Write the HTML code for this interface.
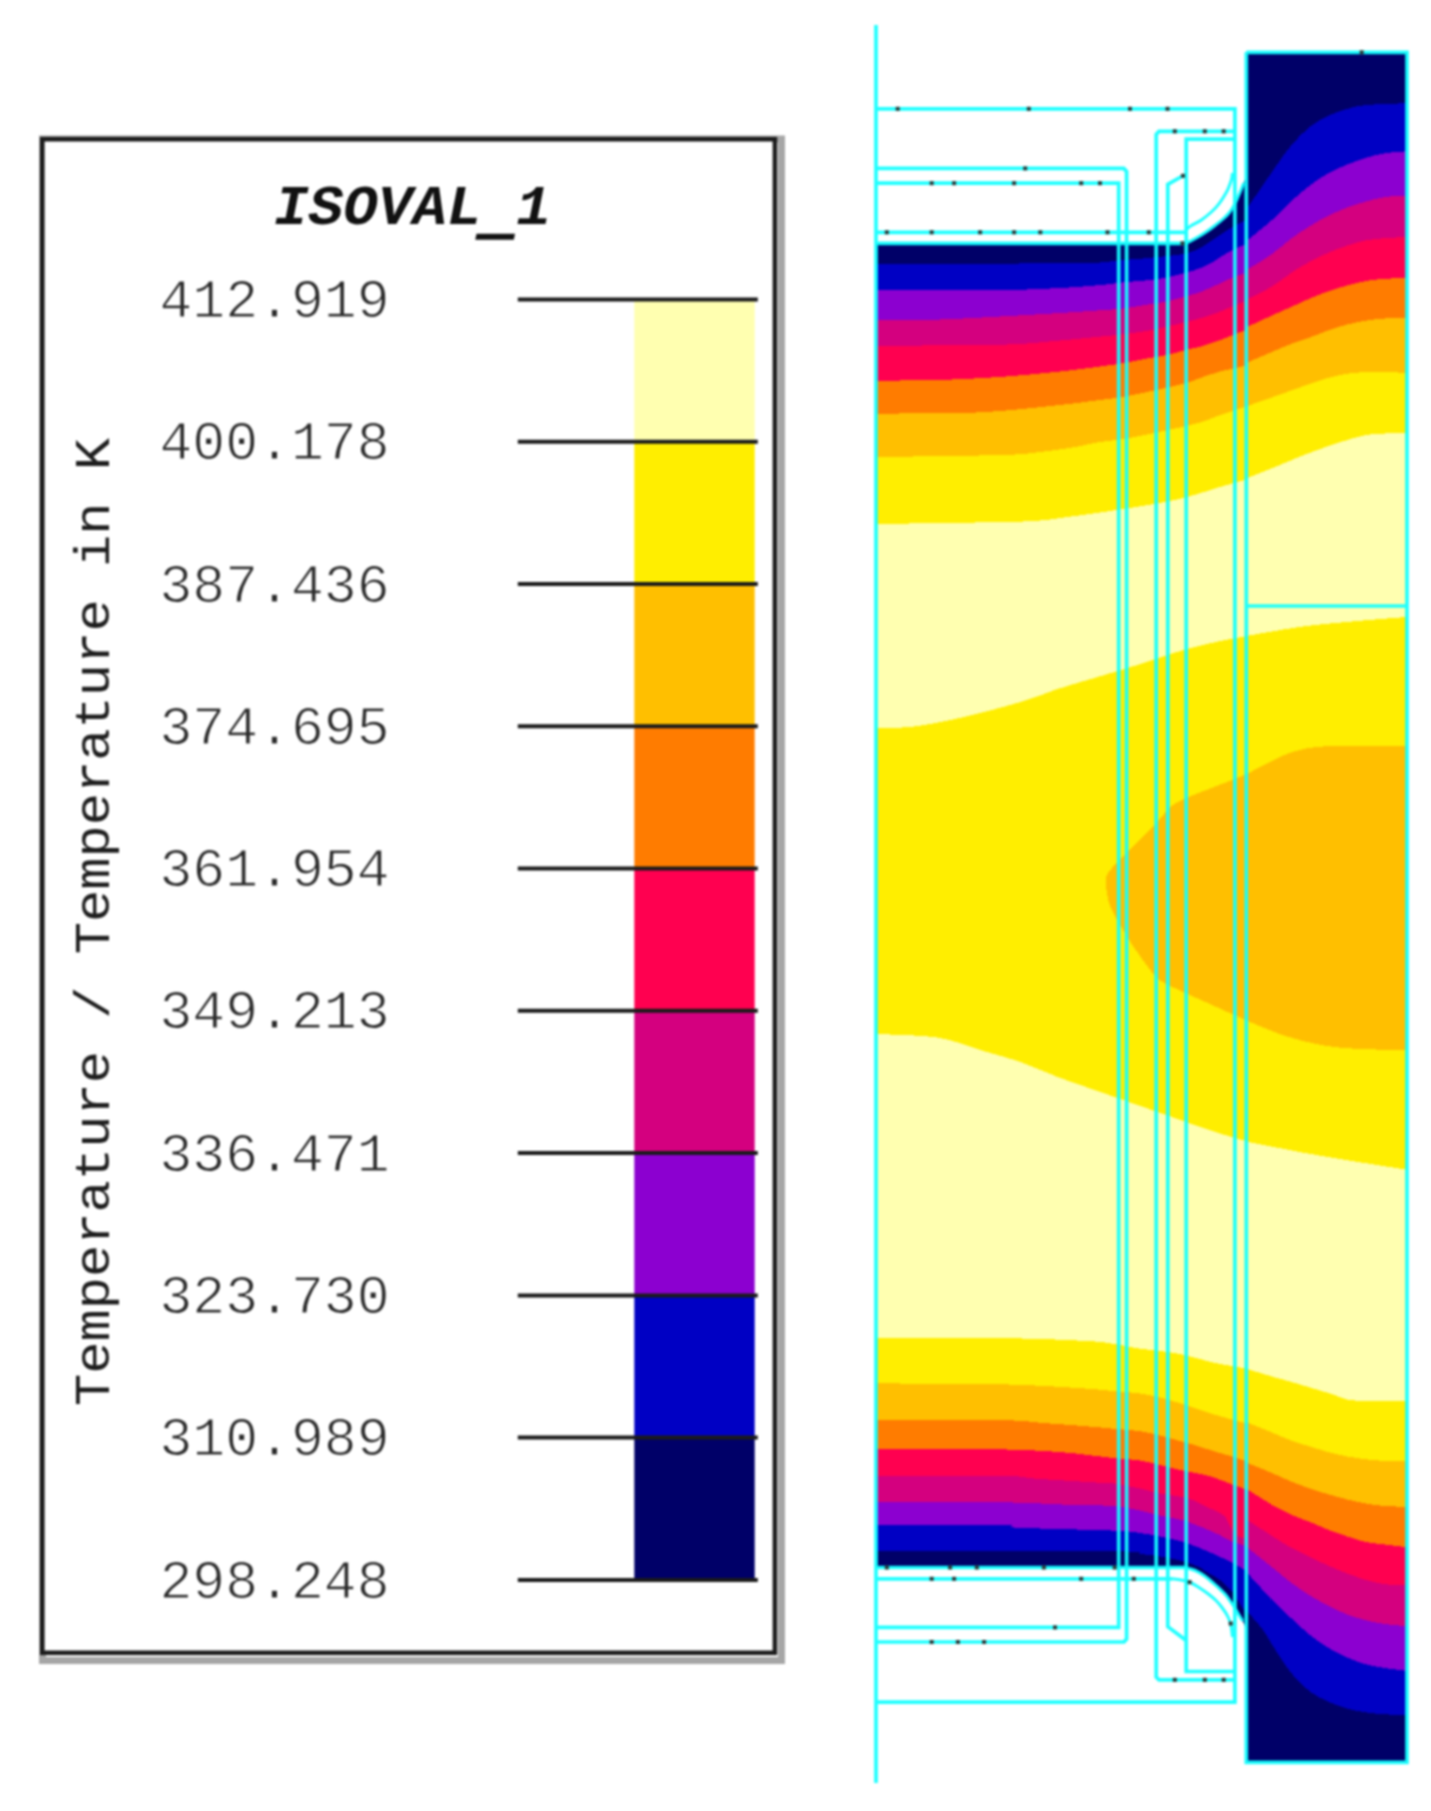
<!DOCTYPE html>
<html lang="en">
<head>
<meta charset="utf-8">
<title>ISOVAL_1 temperature isovalues</title>
<style>
html,body{margin:0;padding:0;background:#fff;}
body{width:1431px;height:1811px;position:relative;overflow:hidden;}
</style>
</head>
<body>
<svg width="1431" height="1811" viewBox="0 0 1431 1811" style="position:absolute;left:0;top:0;filter:blur(0.95px)">
<defs><clipPath id="reg"><path d="M876 243.3L1184 243.3C1185 243 1187.7 242.4 1190 241.3C1192.3 240.2 1195.2 238.6 1198 237C1200.8 235.4 1204 233.4 1206.8 231.5C1209.6 229.6 1212.2 227.7 1215 225.5C1217.8 223.3 1221.3 220.6 1223.6 218.5C1225.9 216.4 1227.5 214.8 1229 213C1230.5 211.2 1231.3 209.9 1232.5 208C1233.7 206.1 1234.8 204.1 1236 201.5C1237.2 198.9 1238.7 195.6 1240 192.5C1241.3 189.4 1242.7 185.6 1243.7 183C1244.7 180.4 1245.6 178 1246 177L1246 52.3L1407 52.3L1407 1762.4L1246 1762.4L1246 1629C1245.5 1627.7 1243.9 1623.3 1242.7 1621C1241.5 1618.7 1240.3 1617.2 1239 1615C1237.7 1612.8 1236.1 1609.9 1234.6 1607.5C1233.1 1605.1 1231.4 1602.8 1230 1600.8C1228.6 1598.8 1227.8 1597.3 1226 1595.2C1224.2 1593.1 1221.3 1590.4 1219 1588.2C1216.7 1586 1214.3 1584 1212 1582C1209.7 1580 1207.3 1578 1205 1576.3C1202.7 1574.6 1200.5 1573 1198 1571.8C1195.5 1570.5 1192.3 1569.5 1190 1568.8C1187.7 1568 1185 1567.5 1184 1567.3L876 1567.3 Z"/></clipPath></defs>
<g clip-path="url(#reg)" shape-rendering="crispEdges">
<rect x="870" y="40" width="545" height="1730" fill="#000068"/>
<path d="M876 263.6C897 263.6 971.3 263.7 1002 263.6C1032.7 263.5 1043.7 263.2 1060 263C1076.3 262.8 1090.5 262.9 1100 262.5C1109.5 262.1 1109.5 261.2 1117 260.5C1124.5 259.8 1136.7 259.1 1145 258.3C1153.3 257.6 1160.2 256.8 1167 256C1173.8 255.2 1180.5 254.8 1186 253.5C1191.5 252.2 1195.7 250.2 1200 248C1204.3 245.8 1208.2 243 1212 240.5C1215.8 238 1219.3 235.4 1223 233C1226.7 230.6 1230.2 228.2 1234 226C1237.8 223.8 1244 221 1246 220L1246 210C1250.3 203.7 1264.5 182.7 1272 172C1279.5 161.3 1284.7 153.2 1291 145.7C1297.3 138.2 1303.7 131.8 1310 126.8C1316.3 121.8 1322.8 118.5 1329 115.5C1335.2 112.5 1341.3 110.6 1347.5 108.9C1353.7 107.2 1356.1 106 1366 105.1C1375.9 104.1 1400.2 103.5 1407 103.2L1407 900 L876 900 Z" fill="#0000c4"/>
<path d="M876 290C897 290 971.3 290.3 1002 290C1032.7 289.7 1043.7 288.8 1060 288C1076.3 287.2 1089.7 286 1100 285.1C1110.3 284.2 1113.7 283.4 1122 282.5C1130.3 281.6 1142.5 280.9 1150 280C1157.5 279.1 1161 278.5 1167 277.3C1173 276.1 1180.4 274.4 1186 272.8C1191.6 271.2 1196.4 269.7 1200.7 268C1205 266.3 1208.3 264.6 1212 262.5C1215.7 260.4 1219.3 257.7 1223 255.5C1226.7 253.3 1230.4 251.3 1234.2 249.4C1238 247.5 1244 244.9 1246 244L1246 241.5C1250.3 237.9 1264.5 226.7 1272 220C1279.5 213.3 1284.7 207.3 1291 201.5C1297.3 195.7 1303.7 190.1 1310 185.3C1316.3 180.6 1322.8 176.5 1329 173C1335.2 169.5 1341.3 167 1347.5 164.5C1353.7 162 1359.8 159.8 1366 157.9C1372.2 156 1378.2 154.3 1385 153.2C1391.8 152.1 1403.3 151.6 1407 151.3L1407 900 L876 900 Z" fill="#8c00d0"/>
<path d="M876 320.2C886.7 320.1 919 320.1 940 319.5C961 318.9 982 317.5 1002 316.4C1022 315.3 1043.7 314 1060 313C1076.3 312 1089.7 311 1100 310.3C1110.3 309.6 1113.7 309.6 1122 308.6C1130.3 307.6 1142.5 305.4 1150 304.2C1157.5 303 1161 302.7 1167 301.4C1173 300.1 1180.4 297.9 1186 296.3C1191.6 294.7 1196.4 293.4 1200.7 291.9C1205 290.3 1208.3 288.6 1212 287C1215.7 285.4 1219.3 283.7 1223 282C1226.7 280.3 1230.4 278.5 1234.2 277C1238 275.5 1244 273.7 1246 273L1246 270.5C1250.3 267.8 1264.5 259.3 1272 254C1279.5 248.7 1284.7 243.5 1291 238.8C1297.3 234.1 1303.7 229.9 1310 226C1316.3 222.1 1322.8 218.6 1329 215.5C1335.2 212.4 1341.3 209.8 1347.5 207.5C1353.7 205.2 1359.8 203.2 1366 201.5C1372.2 199.8 1378.2 198 1385 197C1391.8 196 1403.3 195.9 1407 195.7L1407 900 L876 900 Z" fill="#d4007f"/>
<path d="M876 345.7C897 345.5 971.3 345.6 1002 344.7C1032.7 343.8 1043.7 341.9 1060 340.5C1076.3 339.1 1089.7 337.6 1100 336.6C1110.3 335.6 1113.7 335.4 1122 334.4C1130.3 333.4 1142.5 331.7 1150 330.4C1157.5 329.1 1161 327.9 1167 326.5C1173 325.1 1180.4 323.4 1186 322C1191.6 320.6 1196.4 319.4 1200.7 318.1C1205 316.9 1208.3 315.8 1212 314.5C1215.7 313.2 1219.3 312 1223 310.5C1226.7 309 1230.4 307.1 1234.2 305.5C1238 303.9 1244 301.8 1246 301L1246 300C1250.3 297.8 1264.5 291 1272 286.5C1279.5 282 1284.7 277.2 1291 273C1297.3 268.8 1303.7 264.9 1310 261.5C1316.3 258.1 1322.8 255.2 1329 252.5C1335.2 249.8 1341.3 247.5 1347.5 245.5C1353.7 243.5 1359.8 241.5 1366 240.3C1372.2 239.1 1378.2 238.8 1385 238.2C1391.8 237.6 1403.3 237.2 1407 237L1407 900 L876 900 Z" fill="#ff0050"/>
<path d="M876 380.6C886.7 380.5 919 380.6 940 380C961 379.4 982 378.2 1002 376.8C1022 375.4 1043.7 373.2 1060 371.5C1076.3 369.8 1089.7 367.9 1100 366.5C1110.3 365.1 1113.7 364.8 1122 363.4C1130.3 362 1142.5 359.4 1150 358C1157.5 356.6 1161 356.3 1167 355C1173 353.7 1180.4 351.4 1186 350C1191.6 348.6 1196.4 347.7 1200.7 346.5C1205 345.3 1208.3 344.2 1212 343C1215.7 341.8 1219.3 340.4 1223 339C1226.7 337.6 1230.4 336 1234.2 334.5C1238 333 1244 330.8 1246 330L1246 327.5C1250.3 325.5 1264.5 318.9 1272 315.5C1279.5 312.1 1284.7 309.8 1291 307C1297.3 304.2 1303.7 301.2 1310 298.5C1316.3 295.8 1322.8 293.2 1329 291C1335.2 288.8 1341.3 287.2 1347.5 285.5C1353.7 283.8 1359.8 282.1 1366 281C1372.2 279.9 1378.2 279.3 1385 278.8C1391.8 278.3 1403.3 278.3 1407 278.2L1407 900 L876 900 Z" fill="#ff7c00"/>
<path d="M876 413.6C890 413.5 939 413.5 960 413C981 412.5 985.3 412.1 1002 410.8C1018.7 409.5 1043.7 406.8 1060 405C1076.3 403.2 1089.7 401.3 1100 400C1110.3 398.7 1113 398.6 1122 397C1131 395.4 1143.3 392.8 1154 390.5C1164.7 388.2 1178.2 385.1 1186 383C1193.8 380.9 1196.4 379.3 1200.7 377.8C1205 376.3 1208.3 375.2 1212 374C1215.7 372.8 1219.3 371.8 1223 370.8C1226.7 369.9 1230.4 369.2 1234.2 368.3C1238 367.4 1244 366 1246 365.5L1246 363C1250.5 361.1 1265.5 354.7 1273 351.5C1280.5 348.3 1284.8 346.3 1291 344C1297.2 341.7 1303.7 339.8 1310 337.5C1316.3 335.2 1322.8 332.2 1329 330C1335.2 327.8 1341.3 326.1 1347.5 324.5C1353.7 322.9 1359.8 321.6 1366 320.6C1372.2 319.6 1378.2 319 1385 318.5C1391.8 318 1403.3 317.9 1407 317.8L1407 900 L876 900 Z" fill="#ffbf00"/>
<path d="M876 457C897 456.7 974.7 455.8 1002 455C1029.3 454.2 1027.8 453.3 1040 452C1052.2 450.7 1065 448.7 1075 447C1085 445.3 1091.3 443.4 1100 442C1108.7 440.6 1118 440 1127 438.5C1136 437 1144 435.1 1154 433C1164 430.9 1178.5 427.8 1187 425.8C1195.5 423.8 1199.5 422.6 1205 420.8C1210.5 419 1213.2 417.6 1220 415.2C1226.8 412.8 1241.7 407.9 1246 406.5L1246 406.5C1250.5 404.9 1264.8 399.9 1273 397C1281.2 394.1 1287.7 391.8 1295 389.2C1302.3 386.6 1309.6 383.8 1317 381.4C1324.4 379 1332 376.5 1339.5 375C1347 373.5 1354.4 372.7 1362 372.2C1369.6 371.7 1377.5 371.9 1385 372C1392.5 372.1 1403.3 372.8 1407 373L1407 900 L876 900 Z" fill="#ffee00"/>
<path d="M876 524C897 523.7 974.7 522.6 1002 522C1029.3 521.4 1027.8 521.5 1040 520.5C1052.2 519.5 1065 517.3 1075 516C1085 514.7 1086.8 514.5 1100 512.5C1113.2 510.5 1139.5 506.6 1154 504C1168.5 501.4 1176 499.8 1187 497C1198 494.2 1210.2 489.9 1220 487C1229.8 484.1 1241.7 480.8 1246 479.5L1246 478.5C1250.5 476.7 1261.3 472.5 1273 467.8C1284.7 463.1 1301.5 455.7 1316 450.5C1330.5 445.3 1348.5 439.2 1360 436.4C1371.5 433.6 1377.2 434.1 1385 433.5C1392.8 432.9 1403.3 433.1 1407 433L1407 900 L876 900 Z" fill="#ffffb0"/>
<path d="M876 728.3C882.5 728 900.3 728.3 915 726.4C929.7 724.5 946.3 721.1 964 717C981.7 712.9 1005.2 706.6 1021 701.9C1036.8 697.2 1046.1 692.8 1058.7 688.7C1071.3 684.6 1083.9 681.2 1096.4 677.4C1109 673.6 1121.4 670 1134 666C1146.6 662 1159.4 657.3 1172 653.5C1184.6 649.7 1197.3 646.3 1209.6 643.4C1221.9 640.5 1239.9 637.4 1246 636.2L1246 636C1255.7 634.4 1285 628.9 1304 626.4C1323 623.9 1342.8 622.4 1360 620.8C1377.2 619.2 1399.2 617.6 1407 617L1407 900 L876 900 Z" fill="#ffee00"/>
<path d="M876 1551.3C915.5 1551.3 1069 1550.8 1113 1551.3C1157 1551.8 1132.8 1553.2 1140 1554C1147.2 1554.8 1149.7 1554.8 1156 1555.8C1162.3 1556.8 1172.7 1558.8 1178 1560C1183.3 1561.2 1184.7 1561.9 1188 1563C1191.3 1564.1 1195 1565.1 1198 1566.5C1201 1567.9 1202.3 1569.2 1206 1571.5C1209.7 1573.8 1215.9 1577 1220 1580C1224.1 1583 1227.6 1586.3 1230.4 1589.5C1233.2 1592.7 1235 1595.9 1237 1599C1239 1602.1 1241.2 1605.7 1242.7 1608C1244.2 1610.3 1245.5 1612.2 1246 1613L1246 1610C1248.8 1613.2 1258.3 1623.7 1262.6 1629.4C1266.9 1635.2 1267.3 1637.3 1272 1644.5C1276.7 1651.7 1284.7 1665 1291 1672.8C1297.3 1680.6 1303.7 1686.7 1310 1691.6C1316.3 1696.5 1322.8 1699.2 1329 1702C1335.2 1704.8 1341.3 1706.9 1347.5 1708.6C1353.7 1710.3 1359.8 1711.5 1366 1712.4C1372.2 1713.4 1378.2 1713.8 1385 1714.3C1391.8 1714.8 1403.3 1715 1407 1715.2L1407 900 L876 900 Z" fill="#0000c4"/>
<path d="M876 1524.9C897 1524.9 978.5 1524.4 1002 1524.9C1025.5 1525.4 998.5 1526.8 1017 1527.7C1035.5 1528.7 1092.5 1529.7 1113 1530.6C1133.5 1531.5 1132.2 1532 1140 1533C1147.8 1534 1153.7 1535.2 1160 1536.5C1166.3 1537.8 1173.7 1539.4 1178 1540.5C1182.3 1541.6 1183 1541.9 1186 1542.9C1189 1543.9 1192.7 1545.2 1196 1546.5C1199.3 1547.8 1202 1548.9 1206 1550.6C1210 1552.3 1215.9 1555 1220 1556.9C1224.1 1558.8 1227.1 1560.1 1230.4 1561.8C1233.7 1563.5 1237.4 1565.5 1240 1567C1242.6 1568.5 1245 1570.3 1246 1571L1246 1571.5C1248.5 1574.2 1256.7 1583.2 1261 1588C1265.3 1592.8 1267 1595 1272 1600C1277 1605 1284.7 1612.2 1291 1618C1297.3 1623.8 1303.7 1630 1310 1635C1316.3 1640 1322.8 1644.4 1329 1648.2C1335.2 1652 1341.3 1655 1347.5 1657.7C1353.7 1660.4 1359.8 1662.6 1366 1664.3C1372.2 1666 1378.2 1666.9 1385 1668C1391.8 1669.1 1403.3 1670.4 1407 1670.9L1407 900 L876 900 Z" fill="#8c00d0"/>
<path d="M876 1502.3C897 1502.3 969 1501.8 1002 1502.3C1035 1502.8 1055.5 1504.4 1074 1505C1092.5 1505.6 1102 1505.1 1113 1506C1124 1506.9 1132.2 1508.9 1140 1510.5C1147.8 1512.1 1153.7 1514 1160 1515.5C1166.3 1517 1173.7 1518.2 1178 1519.2C1182.3 1520.2 1183 1520.2 1186 1521.2C1189 1522.2 1192.7 1523.7 1196 1525C1199.3 1526.3 1202 1527.2 1206 1528.9C1210 1530.6 1215.9 1533.2 1220 1535.2C1224.1 1537.2 1227.1 1539.3 1230.4 1540.8C1233.7 1542.3 1237.4 1543.1 1240 1544C1242.6 1544.9 1245 1545.7 1246 1546L1246 1546.5C1250.3 1549.9 1264.5 1561.1 1272 1567.1C1279.5 1573.1 1284.7 1577.8 1291 1582.5C1297.3 1587.2 1303.7 1591.6 1310 1595.5C1316.3 1599.4 1322.8 1602.8 1329 1606C1335.2 1609.2 1341.3 1612.1 1347.5 1614.5C1353.7 1616.9 1359.8 1618.7 1366 1620.3C1372.2 1621.9 1378.2 1623 1385 1624C1391.8 1625 1403.3 1625.8 1407 1626.2L1407 900 L876 900 Z" fill="#d4007f"/>
<path d="M876 1475.8C897 1475.8 975.3 1475.3 1002 1475.8C1028.7 1476.3 1020.3 1477.6 1036 1478.7C1051.7 1479.8 1083.2 1481.7 1096 1482.5C1108.8 1483.3 1105.7 1482.4 1113 1483.4C1120.3 1484.4 1132.2 1486.8 1140 1488.5C1147.8 1490.2 1153.7 1492.2 1160 1493.5C1166.3 1494.8 1173.7 1495.6 1178 1496.3C1182.3 1497 1183 1496.9 1186 1497.8C1189 1498.7 1192.7 1500 1196 1501.5C1199.3 1503 1202 1504.6 1206 1506.5C1210 1508.4 1216.7 1511.1 1220 1513C1223.3 1514.9 1224.3 1515.7 1226 1518C1227.7 1520.3 1228.7 1524.2 1230.4 1527C1232.1 1529.8 1233.4 1533 1236 1535C1238.6 1537 1244.3 1538.3 1246 1539L1246 1519C1250.3 1521.8 1264.5 1531.2 1272 1536C1279.5 1540.8 1284.7 1544 1291 1547.5C1297.3 1551 1303.7 1553.9 1310 1557C1316.3 1560.1 1322.8 1563.2 1329 1566C1335.2 1568.8 1341.3 1571.2 1347.5 1573.5C1353.7 1575.8 1359.8 1578.2 1366 1580C1372.2 1581.8 1378.2 1583.3 1385 1584.2C1391.8 1585.1 1403.3 1585.3 1407 1585.5L1407 900 L876 900 Z" fill="#ff0050"/>
<path d="M876 1449.4C897 1449.4 970.9 1448.9 1002 1449.4C1033.1 1449.9 1046.8 1451.2 1062.5 1452.3C1078.2 1453.4 1087.6 1455.1 1096 1456C1104.4 1456.9 1105.7 1457.2 1113 1457.9C1120.3 1458.7 1132.2 1459.3 1140 1460.5C1147.8 1461.7 1153.7 1463.5 1160 1465C1166.3 1466.5 1173 1468.3 1178 1469.5C1183 1470.7 1184.5 1470.8 1190 1472C1195.5 1473.2 1204.2 1474.5 1211 1476.5C1217.8 1478.5 1225.2 1481.8 1231 1484C1236.8 1486.2 1243.5 1488.6 1246 1489.5L1246 1488.5C1250.3 1491.2 1264.5 1500.5 1272 1504.8C1279.5 1509.1 1284.7 1511.6 1291 1514.5C1297.3 1517.4 1303.7 1519.4 1310 1522C1316.3 1524.6 1322.8 1527.6 1329 1530C1335.2 1532.4 1341.3 1534.5 1347.5 1536.5C1353.7 1538.5 1359.8 1540.7 1366 1542C1372.2 1543.3 1378.2 1543.6 1385 1544.5C1391.8 1545.4 1403.3 1546.8 1407 1547.2L1407 900 L876 900 Z" fill="#ff7c00"/>
<path d="M876 1420.2C897 1420.2 974.1 1419.7 1002 1420.2C1029.9 1420.7 1028.5 1421.9 1043.6 1423C1058.7 1424.1 1081 1425.8 1092.6 1426.8C1104.2 1427.8 1105.1 1428 1113 1428.7C1120.9 1429.4 1132.2 1430.1 1140 1431.2C1147.8 1432.3 1153.7 1434 1160 1435.5C1166.3 1437 1172 1438.7 1178 1440.4C1184 1442.1 1189.8 1443.6 1196 1445.5C1202.2 1447.4 1209.5 1449.9 1215.5 1451.7C1221.5 1453.5 1226.9 1454.9 1232 1456.5C1237.1 1458.1 1243.7 1460.3 1246 1461.1L1246 1462.5C1250.3 1464.2 1264.5 1469.8 1272 1473C1279.5 1476.2 1284.7 1478.9 1291 1481.5C1297.3 1484.1 1303.7 1486.3 1310 1488.5C1316.3 1490.7 1322.8 1492.7 1329 1494.5C1335.2 1496.3 1341.3 1498 1347.5 1499.5C1353.7 1501 1359.8 1502.4 1366 1503.5C1372.2 1504.6 1378.2 1505.5 1385 1506C1391.8 1506.5 1403.3 1506.7 1407 1506.8L1407 900 L876 900 Z" fill="#ffbf00"/>
<path d="M876 1383.4C897 1383.6 968.4 1383.5 1002 1384.3C1035.6 1385.1 1059 1386.9 1077.5 1388C1096 1389.1 1102.6 1390.1 1113 1391C1123.4 1391.9 1132.2 1392.4 1140 1393.5C1147.8 1394.6 1153.7 1396 1160 1397.5C1166.3 1399 1172 1400.8 1178 1402.6C1184 1404.4 1189.8 1406.5 1196 1408.5C1202.2 1410.5 1209.5 1413.1 1215.5 1414.9C1221.5 1416.7 1226.9 1418.1 1232 1419.5C1237.1 1420.9 1243.7 1422.8 1246 1423.4L1246 1422C1250.3 1423.8 1264.5 1429.4 1272 1432.5C1279.5 1435.6 1284.7 1438.2 1291 1440.5C1297.3 1442.8 1303.7 1444.5 1310 1446.5C1316.3 1448.5 1322.8 1450.6 1329 1452.3C1335.2 1454 1341.3 1455.3 1347.5 1456.5C1353.7 1457.7 1359.8 1458.5 1366 1459.3C1372.2 1460 1378.2 1460.6 1385 1461C1391.8 1461.4 1403.3 1461.4 1407 1461.5L1407 900 L876 900 Z" fill="#ffee00"/>
<path d="M876 1338.1C897 1338.1 966.8 1337.6 1002 1338.1C1037.2 1338.6 1068.5 1340 1087 1341C1105.5 1342 1104.2 1342.5 1113 1343.8C1121.8 1345.1 1132.2 1347.5 1140 1348.7C1147.8 1349.9 1153.7 1350.2 1160 1351C1166.3 1351.8 1172 1352.4 1178 1353.6C1184 1354.8 1189.8 1356.4 1196 1358C1202.2 1359.6 1209.5 1361.7 1215.5 1363C1221.5 1364.3 1226.9 1365 1232 1366C1237.1 1367 1243.7 1368.2 1246 1368.7L1246 1368.7C1250.3 1370 1264.5 1374.3 1272 1376.5C1279.5 1378.7 1284.7 1380.1 1291 1381.9C1297.3 1383.7 1303.7 1385.6 1310 1387.5C1316.3 1389.4 1322.8 1391.2 1329 1393.2C1335.2 1395.2 1342.3 1398.3 1347.5 1399.5C1352.7 1400.7 1350.1 1400.4 1360 1400.6C1369.9 1400.8 1399.2 1400.8 1407 1400.8L1407 900 L876 900 Z" fill="#ffffb0"/>
<path d="M876 1034C886.3 1034.6 920.2 1034.9 938 1037.7C955.8 1040.5 969.2 1046.8 983 1050.9C996.8 1055 1008.4 1057.9 1021 1062.3C1033.6 1066.7 1046.1 1072.7 1058.7 1077.4C1071.3 1082.1 1083.9 1086.2 1096.4 1090.6C1109 1095 1121.4 1099.4 1134 1103.8C1146.6 1108.2 1159.4 1112.6 1172 1117C1184.6 1121.4 1197.3 1126.2 1209.6 1130.2C1221.9 1134.2 1239.9 1139.4 1246 1141.2L1246 1141.5C1255.7 1143.4 1285 1149.3 1304 1152.8C1323 1156.3 1342.8 1159.5 1360 1162.3C1377.2 1165.1 1399.2 1168.5 1407 1169.8L1407 900 L876 900 Z" fill="#ffee00"/>
<path d="M1105.8 879.2C1106.2 878.2 1105.8 876.1 1108 873C1110.2 869.9 1114.7 865 1119 860.4C1123.3 855.8 1127.7 851.6 1134 845.3C1140.3 839 1150.5 829.2 1156.8 822.6C1163.1 816 1166.3 810.1 1172 805.7C1177.7 801.3 1184.5 799 1190.8 796.2C1197.1 793.4 1200.2 792.5 1209.6 788.7C1219 784.9 1234.8 779.3 1247.4 773.6C1260 767.9 1273.7 759.1 1285 754.7C1296.3 750.3 1304.2 748.6 1315 747.2C1325.8 745.8 1334.7 746.5 1350 746.4C1365.3 746.3 1397.5 746.4 1407 746.4L1407 1049.8C1399.2 1049.7 1374 1049.8 1360 1049C1346 1048.2 1335.3 1047.5 1322.8 1045.3C1310.3 1043.1 1297.6 1039.9 1285 1035.8C1272.4 1031.7 1260 1026.1 1247.4 1020.8C1234.8 1015.5 1222.2 1009.5 1209.6 1003.8C1197 998.1 1180.8 991.2 1172 986.8C1163.2 982.4 1161.8 982.1 1156.8 977.4C1151.8 972.7 1146.7 965.4 1141.7 958.5C1136.7 951.6 1131.6 944 1126.6 935.8C1121.6 927.6 1114.8 916.5 1111.5 909.4C1108.2 902.3 1108 898 1107 893C1106 888 1106 881.5 1105.8 879.2Z" fill="#ffbf00"/>
</g>
<g fill="none" stroke="#14ffff" stroke-width="3.7" stroke-opacity="0.95">
<path d="M876 25L876 1783M875.7 108.8L1234.9 108.8L1234.9 1702.2L875.7 1702.2M875.7 168.4L1123.8 168.4L1126.6 171.5L1126.6 1639L1124 1642L875.7 1642M875.7 183.2L1118.7 183.2L1118.7 1627.4L875.7 1627.4M875.7 232.3L1186.2 232.3M875.7 1578.8L1172.7 1578.8M1234.9 131.3L1159 131.3L1156.2 134.5L1156.2 1677L1159 1679.8L1234.9 1679.8M1234.9 139.2L1186.2 139.2L1186.2 1671.5L1234.9 1671.5M1183.5 175.5L1167.8 184.3L1167.8 1626.7L1186.2 1640.6M1246.3 52.3L1407 52.3L1407 1762.4L1246.3 1762.4L1246.3 52.3M1246.3 606L1407 606M875.7 243.3L1184 243.3M875.7 1567.5L1184 1567.5"/>
<path d="M1184 243.3C1185 243 1187.7 242.4 1190 241.3C1192.3 240.2 1195.2 238.6 1198 237C1200.8 235.4 1204 233.4 1206.8 231.5C1209.6 229.6 1212.2 227.7 1215 225.5C1217.8 223.3 1221.3 220.6 1223.6 218.5C1225.9 216.4 1227.5 214.8 1229 213C1230.5 211.2 1231.3 209.9 1232.5 208C1233.7 206.1 1234.8 204.1 1236 201.5C1237.2 198.9 1238.7 195.6 1240 192.5C1241.3 189.4 1243.1 184.6 1243.7 183M1184 1567.3C1185 1567.5 1187.7 1568 1190 1568.8C1192.3 1569.5 1195.5 1570.5 1198 1571.8C1200.5 1573 1202.7 1574.6 1205 1576.3C1207.3 1578 1209.7 1580 1212 1582C1214.3 1584 1216.7 1586 1219 1588.2C1221.3 1590.4 1224.2 1593.1 1226 1595.2C1227.8 1597.3 1228.6 1598.8 1230 1600.8C1231.4 1602.8 1233.1 1605.1 1234.6 1607.5C1236.1 1609.9 1237.7 1612.8 1239 1615C1240.3 1617.2 1242.1 1620 1242.7 1621M1186.2 229.5C1187 228.9 1188.5 227.4 1191 225.8C1193.5 224.2 1197.9 222.3 1201.4 219.9C1204.9 217.5 1209 214.2 1211.9 211.5C1214.8 208.8 1216.8 206.5 1218.9 203.8C1221 201.1 1223 197.9 1224.5 195.4C1226 192.9 1226.8 191.8 1228 189.1C1229.2 186.4 1230.8 182.1 1231.5 179.4C1232.2 176.7 1232.3 174.1 1232.5 173M1172.7 1578.8C1174.1 1579 1178.2 1579.5 1181 1580C1183.8 1580.5 1186.4 1580.8 1189.4 1582C1192.4 1583.2 1195.7 1585.4 1199 1587.5C1202.3 1589.6 1206.2 1592.3 1209 1594.5C1211.8 1596.7 1213.9 1598.4 1216 1600.5C1218.1 1602.6 1219.8 1604.6 1221.6 1607C1223.4 1609.4 1225.5 1612.2 1227 1615C1228.5 1617.8 1229.8 1620.2 1230.7 1623.9C1231.6 1627.6 1232.2 1634.8 1232.5 1637" stroke-width="3"/>
</g>
<g fill="#2b3a3a">
<rect x="895.7" y="106.8" width="4" height="4"/>
<rect x="1026.8" y="106.8" width="4" height="4"/>
<rect x="1128" y="106.8" width="4" height="4"/>
<rect x="1165.5" y="106.8" width="4" height="4"/>
<rect x="1023.2" y="166.4" width="4" height="4"/>
<rect x="929.7" y="181.2" width="4" height="4"/>
<rect x="952.1" y="181.2" width="4" height="4"/>
<rect x="1012.1" y="181.2" width="4" height="4"/>
<rect x="1079.2" y="181.2" width="4" height="4"/>
<rect x="1098" y="181.2" width="4" height="4"/>
<rect x="884.8" y="230.3" width="4" height="4"/>
<rect x="929.7" y="230.3" width="4" height="4"/>
<rect x="978.1" y="230.3" width="4" height="4"/>
<rect x="1012.1" y="230.3" width="4" height="4"/>
<rect x="1038.3" y="230.3" width="4" height="4"/>
<rect x="1105.5" y="230.3" width="4" height="4"/>
<rect x="1146.8" y="230.3" width="4" height="4"/>
<rect x="1172.8" y="129.3" width="4" height="4"/>
<rect x="1202.8" y="129.3" width="4" height="4"/>
<rect x="1221.7" y="129.3" width="4" height="4"/>
<rect x="1181" y="173.8" width="4" height="4"/>
<rect x="1180.5" y="241.3" width="4" height="4"/>
<rect x="1359.7" y="50.3" width="4" height="4"/>
<rect x="884.8" y="1565.5" width="4" height="4"/>
<rect x="948.1" y="1565.5" width="4" height="4"/>
<rect x="974.8" y="1565.5" width="4" height="4"/>
<rect x="1041.9" y="1565.5" width="4" height="4"/>
<rect x="1112.7" y="1565.5" width="4" height="4"/>
<rect x="929.7" y="1576.8" width="4" height="4"/>
<rect x="952.1" y="1576.8" width="4" height="4"/>
<rect x="1079.2" y="1576.8" width="4" height="4"/>
<rect x="1131.8" y="1576.8" width="4" height="4"/>
<rect x="1053" y="1625.4" width="4" height="4"/>
<rect x="929.7" y="1640" width="4" height="4"/>
<rect x="955.9" y="1640" width="4" height="4"/>
<rect x="982.1" y="1640" width="4" height="4"/>
<rect x="1172.8" y="1677.8" width="4" height="4"/>
<rect x="1202.8" y="1677.8" width="4" height="4"/>
<rect x="1221.7" y="1677.8" width="4" height="4"/>
<rect x="1187.6" y="1580.2" width="4" height="4"/>
<rect x="1228.7" y="1621.5" width="4" height="4"/>
</g>
<rect x="42.5" y="139" width="739" height="1521.5" fill="none" stroke="#a6a6a6" stroke-width="7"/>
<rect x="42.3" y="139.2" width="732.6" height="1513.6" fill="#fff" stroke="#1c1c1c" stroke-width="4.6"/>
<rect x="634.3" y="299.4" width="120.4" height="142.8" fill="#ffffb0"/>
<rect x="634.3" y="441.7" width="120.4" height="142.8" fill="#ffee00"/>
<rect x="634.3" y="584" width="120.4" height="142.8" fill="#ffbf00"/>
<rect x="634.3" y="726.2" width="120.4" height="142.8" fill="#ff7c00"/>
<rect x="634.3" y="868.5" width="120.4" height="142.8" fill="#ff0050"/>
<rect x="634.3" y="1010.8" width="120.4" height="142.8" fill="#d4007f"/>
<rect x="634.3" y="1153.1" width="120.4" height="142.8" fill="#8c00d0"/>
<rect x="634.3" y="1295.4" width="120.4" height="142.8" fill="#0000c4"/>
<rect x="634.3" y="1437.6" width="120.4" height="142.8" fill="#000068"/>
<path d="M517.8 299.4H757.8M517.8 441.7H757.8M517.8 584H757.8M517.8 726.2H757.8M517.8 868.5H757.8M517.8 1010.8H757.8M517.8 1153.1H757.8M517.8 1295.4H757.8M517.8 1437.6H757.8M517.8 1579.9H757.8" stroke="#1a1a1a" stroke-width="4" fill="none"/>
<g font-family="'Liberation Mono', monospace" font-size="54.5" fill="#2a2a2a" stroke="#fff" stroke-width="1.1" paint-order="fill stroke">
<text x="159.5" y="317" textLength="230" lengthAdjust="spacingAndGlyphs">412.919</text>
<text x="159.5" y="459.3" textLength="230" lengthAdjust="spacingAndGlyphs">400.178</text>
<text x="159.5" y="601.6" textLength="230" lengthAdjust="spacingAndGlyphs">387.436</text>
<text x="159.5" y="743.8" textLength="230" lengthAdjust="spacingAndGlyphs">374.695</text>
<text x="159.5" y="886.1" textLength="230" lengthAdjust="spacingAndGlyphs">361.954</text>
<text x="159.5" y="1028.4" textLength="230" lengthAdjust="spacingAndGlyphs">349.213</text>
<text x="159.5" y="1170.7" textLength="230" lengthAdjust="spacingAndGlyphs">336.471</text>
<text x="159.5" y="1313" textLength="230" lengthAdjust="spacingAndGlyphs">323.730</text>
<text x="159.5" y="1455.2" textLength="230" lengthAdjust="spacingAndGlyphs">310.989</text>
<text x="159.5" y="1597.5" textLength="230" lengthAdjust="spacingAndGlyphs">298.248</text>
<text transform="translate(108.6 1406) rotate(-90)" font-size="49.5" textLength="968" lengthAdjust="spacingAndGlyphs" fill="#1e1e1e" stroke="none">Temperature / Temperature in K</text>
</g>
<text x="274" y="224" font-family="'Liberation Mono', monospace" font-weight="bold" font-style="italic" font-size="55.5" textLength="277" lengthAdjust="spacingAndGlyphs" fill="#111">ISOVAL<tspan dy="8" stroke="#111" stroke-width="3.5">_</tspan><tspan dy="-8">1</tspan></text>
</svg>
</body>
</html>
